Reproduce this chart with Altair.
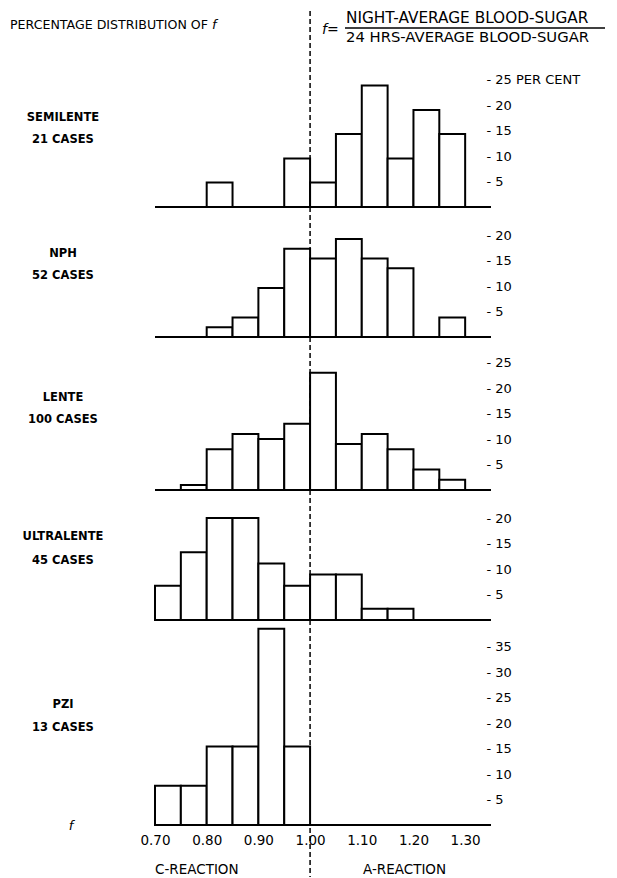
import altair as alt
import pandas as pd

# ---------------- data ----------------
bin_starts = [0.70, 0.75, 0.80, 0.85, 0.90, 0.95, 1.00, 1.05, 1.10, 1.15, 1.20, 1.25]
bin_width = 0.05
semilente = [0, 0, 4.8, 0, 0, 9.5, 4.8, 14.3, 23.8, 9.5, 19.0, 14.3]
nph = [0, 0, 1.9, 3.8, 9.6, 17.3, 15.4, 19.2, 15.4, 13.5, 0, 3.8]
lente = [0, 1, 8, 11, 10, 13, 23, 9, 11, 8, 4, 2]
ultralente = [6.7, 13.3, 20.0, 20.0, 11.1, 6.7, 8.9, 8.9, 2.2, 2.2, 0, 0]
pzi = [7.7, 7.7, 15.4, 15.4, 38.5, 15.4, 0, 0, 0, 0, 0, 0]
series = [semilente, nph, lente, ultralente, pzi]
names = ["SEMILENTE", "NPH", "LENTE", "ULTRALENTE", "PZI"]
cases = ["21 CASES", "52 CASES", "100 CASES", "45 CASES", "13 CASES"]
y_ticks = [[5, 10, 15, 20, 25], [5, 10, 15, 20], [5, 10, 15, 20, 25],
           [5, 10, 15, 20], [5, 10, 15, 20, 25, 30, 35]]
x_ticks = [0.70, 0.80, 0.90, 1.00, 1.10, 1.20, 1.30]
x_domain = [0.70, 1.35]
divider = 1.00

title_left = "PERCENTAGE DISTRIBUTION OF"
numerator = "NIGHT-AVERAGE BLOOD-SUGAR"
denominator = "24 HRS-AVERAGE BLOOD-SUGAR"
c_reaction = "C-REACTION"
a_reaction = "A-REACTION"

# ---------------- layout ----------------
FONT = "DejaVu Sans"
PX_PER_PCT = 5.1
W = 336
heights = [199, 130, 153, 130, 205]
label_y = [(110, 132), (47, 69), (61, 83), (47, 71), (85, 108)]
LABEL_X = -92


def note(text, x, y, **style):
    base = dict(font=FONT, fontSize=12, baseline="middle", color="black")
    base.update(style)
    return alt.Chart(pd.DataFrame({"t": [text]})).mark_text(**base).encode(
        x=alt.value(x), y=alt.value(y), text="t:N")


def panel(i):
    h = heights[i]
    df = pd.DataFrame({
        "x": bin_starts,
        "x2": [round(b + bin_width, 2) for b in bin_starts],
        "pct": series[i],
    })
    df = df[df["pct"] > 0].copy()
    df["zero"] = 0
    xs = alt.Scale(domain=x_domain, nice=False, zero=False)
    ys = alt.Scale(domain=[0, h / PX_PER_PCT], nice=False, zero=False)
    if i == 0:
        lab = "datum.value == 25 ? '- 25 PER CENT' : '- ' + datum.label"
    else:
        lab = "'- ' + datum.label"
    yaxis = alt.Axis(orient="right", values=y_ticks[i], ticks=False, domain=False,
                     grid=False, labelPadding=-5, labelExpr=lab, title=None,
                     labelFontSize=13, labelFont=FONT, labelColor="black")
    if i == 4:
        xaxis = alt.Axis(values=x_ticks, format=".2f", ticks=False, domain=False,
                         grid=False, labelPadding=8, labelFlush=False, title=None,
                         labelFontSize=13.5, labelFont=FONT, labelColor="black")
    else:
        xaxis = None

    bars = alt.Chart(df).mark_rect(fill="white", stroke="black", strokeWidth=2).encode(
        x=alt.X("x:Q", scale=xs, axis=xaxis),
        x2="x2:Q",
        y=alt.Y("pct:Q", scale=ys, axis=yaxis),
        y2="zero:Q",
    )
    base_df = pd.DataFrame({"x": [x_domain[0]], "x2": [x_domain[1]], "pct": [0]})
    baseline = alt.Chart(base_df).mark_rule(color="black", strokeWidth=2).encode(
        x=alt.X("x:Q", scale=xs, axis=xaxis),
        x2="x2:Q",
        y=alt.Y("pct:Q", scale=ys, axis=yaxis),
    )
    y_top = 3 if i == 0 else 0
    y_bot = h + 52 if i == 4 else h
    div_df = pd.DataFrame({"x": [divider]})
    dash = alt.Chart(div_df).mark_rule(color="black", strokeWidth=1.5,
                                       strokeDash=[5, 3]).encode(
        x=alt.X("x:Q", scale=xs, axis=xaxis),
        y=alt.value(y_top), y2=alt.value(y_bot),
    )
    lbl = dict(fontWeight="bold", fontSize=11.5)
    layers = [dash, bars, baseline,
              note(names[i], LABEL_X, label_y[i][0], **lbl),
              note(cases[i], LABEL_X, label_y[i][1], **lbl)]
    if i == 0:
        layers += [
            note(title_left, -145, 17, align="left", fontSize=12.6),
            note("f", 57, 17, align="left", fontStyle="italic", fontSize=13),
            note("f=", 167, 22, align="left", fontStyle="italic", fontSize=14),
            note(numerator, 191, 10, align="left", fontSize=15.3),
            note(denominator, 191, 30, align="left", fontSize=14.8),
            alt.Chart(pd.DataFrame({"t": [0]})).mark_rule(color="black", strokeWidth=1.3).encode(
                x=alt.value(190), x2=alt.value(450), y=alt.value(20)),
        ]
    if i == 4:
        layers += [
            note("f", -84, 206, fontStyle="italic", fontSize=13),
            note(c_reaction, 0, 250, align="left", fontSize=13.5),
            note(a_reaction, 208, 250, align="left", fontSize=13.5),
        ]
    return alt.layer(*layers).properties(width=W, height=h)


chart = alt.vconcat(*[panel(i) for i in range(5)], spacing=0, bounds="flush").properties(
    padding={"left": 2, "top": 0, "right": 0, "bottom": 0}
).configure(font=FONT).configure_view(stroke=None).configure_axis(
    domain=False, grid=False, ticks=False)

chart.save("out.html", embed_options={"renderer": "svg", "actions": False})
